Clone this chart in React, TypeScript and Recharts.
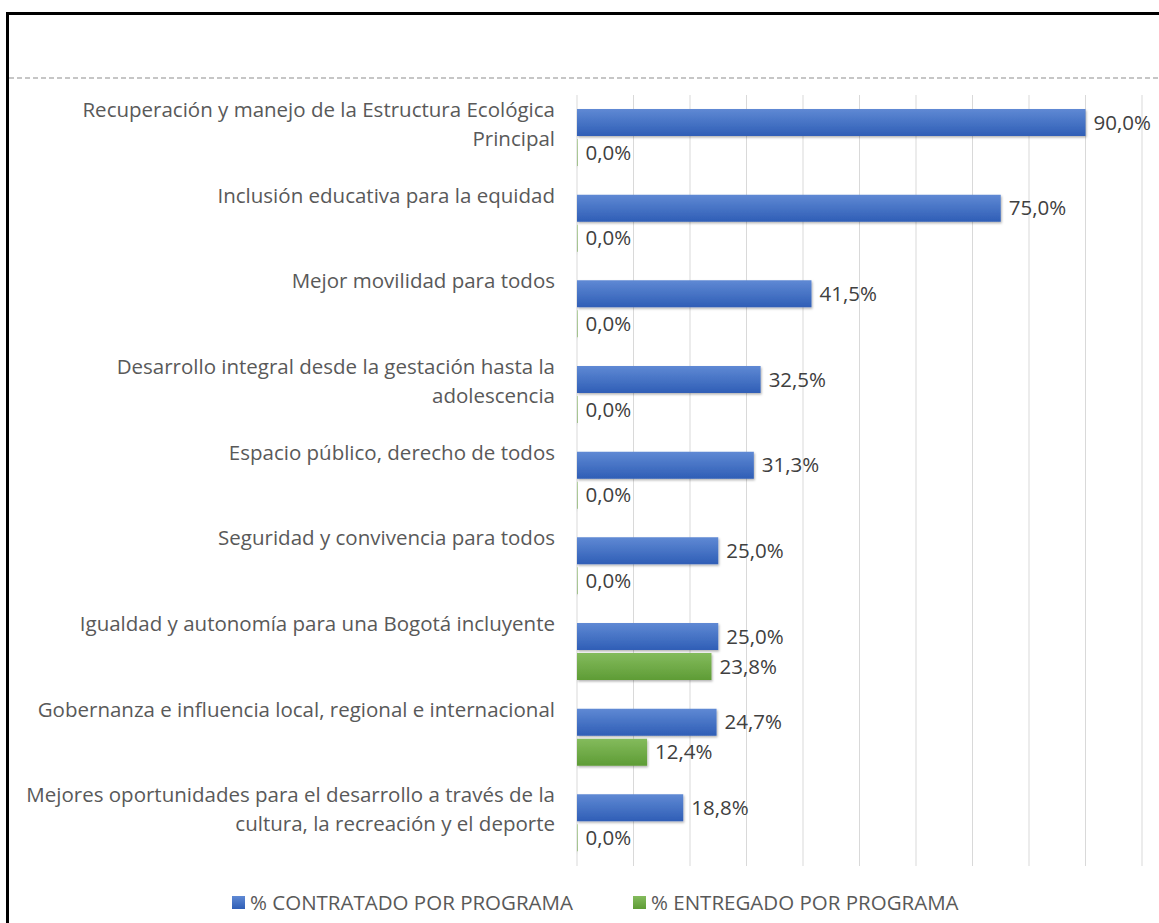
import {BarChart, Bar, XAxis, YAxis, CartesianGrid, LabelList} from "recharts";

const CATEGORIES = [
  "Recuperación y manejo de la Estructura Ecológica\nPrincipal",
  "Inclusión educativa para la equidad",
  "Mejor movilidad para todos",
  "Desarrollo integral desde la gestación hasta la\nadolescencia",
  "Espacio público, derecho de todos",
  "Seguridad y convivencia para todos",
  "Igualdad y autonomía para una Bogotá incluyente",
  "Gobernanza e influencia local, regional e internacional",
  "Mejores oportunidades para el desarrollo a través de la\ncultura, la recreación y el deporte",
];
const CONTRATADO = [0.9, 0.75, 0.415, 0.325, 0.313, 0.25, 0.25, 0.247, 0.188];
const ENTREGADO = [0, 0, 0, 0, 0, 0, 0.238, 0.124, 0];
const X_TICKS = [0, 0.1, 0.2, 0.3, 0.4, 0.5, 0.6, 0.7, 0.8, 0.9, 1];
const SERIES_NAMES = ["% CONTRATADO POR PROGRAMA", "% ENTREGADO POR PROGRAMA"];

const data = CATEGORIES.map((name, i) => ({name, contratado: CONTRATADO[i], entregado: ENTREGADO[i]}));

const FONT = "'Open Sans', sans-serif";
const FS = 20.5;
const pct = (v: number) => `${(v * 100).toFixed(1).replace(".", ",")}%`;

function CategoryTick(props: any) {
  const lines = String(props.payload.value).split("\n");
  return (
    <text x={546} y={props.y - 28} textAnchor="end" fill="#595959" fontSize={FS} fontFamily={FONT}>
      {lines.map((l, i) => (
        <tspan key={i} x={546} dy={i === 0 ? "0.35em" : 29}>
          {l}
        </tspan>
      ))}
    </text>
  );
}

function ChartLegend() {
  const items = [
    {label: SERIES_NAMES[0], from: "#5f89d4", to: "#2f5eb6", left: 223},
    {label: SERIES_NAMES[1], from: "#84bb5d", to: "#5e9c35", left: 624},
  ];
  return (
    <>
      {items.map((it) => (
        <div
          key={it.label}
          style={{position: "absolute", left: it.left, top: 873, height: 28, display: "flex", alignItems: "center", gap: 5, fontFamily: FONT, fontSize: FS, color: "#595959", whiteSpace: "nowrap"}}
        >
          <span style={{display: "inline-block", width: 13, height: 13, background: `linear-gradient(${it.from}, ${it.to})`}} />
          <span>{it.label}</span>
        </div>
      ))}
    </>
  );
}

export default function App() {
  return (
    <div
      style={{
        position: "absolute",
        left: 6,
        top: 12,
        width: 1153,
        height: 911,
        boxSizing: "border-box",
        borderLeft: "3px solid #000",
        borderTop: "3px solid #000",
        background: "#fff",
        overflow: "hidden",
      }}
    >
      <div
        style={{
          position: "absolute",
          left: 0,
          top: 62,
          width: 1150,
          height: 2,
          background: "repeating-linear-gradient(to right, #c6c6c6 0 5.5px, transparent 5.5px 8px)",
        }}
      />
      <BarChart
        width={1150}
        height={908}
        data={data}
        layout="vertical"
        margin={{top: 80, right: 17, bottom: 57, left: 0}}
        barSize={27}
        barGap={3}
      >
        <defs>
          <linearGradient id="gBlue" x1="0" y1="0" x2="0" y2="1">
            <stop offset="0%" stopColor="#5f89d4" />
            <stop offset="100%" stopColor="#2f5eb6" />
          </linearGradient>
          <linearGradient id="gGreen" x1="0" y1="0" x2="0" y2="1">
            <stop offset="0%" stopColor="#84bb5d" />
            <stop offset="100%" stopColor="#5e9c35" />
          </linearGradient>
          <filter id="shadow" x="-5%" y="-20%" width="110%" height="160%">
            <feDropShadow dx="1" dy="1.5" stdDeviation="1" floodColor="#000" floodOpacity="0.3" />
          </filter>
        </defs>
        <CartesianGrid horizontal={false} stroke="#d9d9d9" />
        <XAxis type="number" domain={[0, 1]} ticks={X_TICKS} hide />
        <YAxis type="category" dataKey="name" width={568} axisLine={false} tickLine={false} tick={<CategoryTick />} interval={0} />
        <Bar dataKey="contratado" name={SERIES_NAMES[0]} fill="url(#gBlue)" filter="url(#shadow)" minPointSize={0.5} isAnimationActive={false}>
          <LabelList dataKey="contratado" position="right" offset={8} formatter={(v: any) => pct(Number(v))} fill="#404040" fontSize={FS} fontFamily={FONT} />
        </Bar>
        <Bar dataKey="entregado" name={SERIES_NAMES[1]} fill="url(#gGreen)" filter="url(#shadow)" minPointSize={0.5} isAnimationActive={false}>
          <LabelList dataKey="entregado" position="right" offset={8} formatter={(v: any) => pct(Number(v))} fill="#404040" fontSize={FS} fontFamily={FONT} />
        </Bar>
      </BarChart>
      <ChartLegend />
    </div>
  );
}
